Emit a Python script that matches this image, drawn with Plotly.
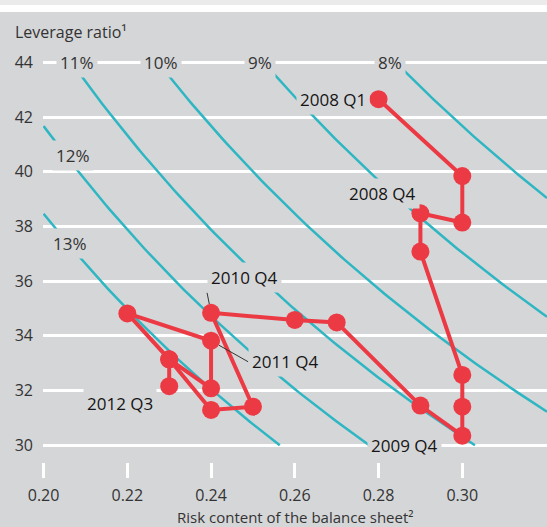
import numpy as np
import plotly.graph_objects as go

# Bank balance sheet path, 2008 Q1 -> 2012 Q3
RISK = [0.28, 0.30, 0.30, 0.29, 0.29, 0.30, 0.30, 0.30, 0.29, 0.27,
        0.26, 0.24, 0.25, 0.24, 0.23, 0.24, 0.24, 0.22, 0.23, 0.23]
LEVERAGE = [42.65, 39.84, 38.14, 38.48, 37.08, 32.57, 31.41, 30.35, 31.45, 34.49,
            34.58, 34.84, 31.41, 31.29, 33.14, 32.08, 33.82, 34.82, 33.14, 32.16]

# iso capital-ratio curves (capital ratio = 1 / (leverage * risk content))
CAPITAL_RATIOS = [0.08, 0.09, 0.10, 0.11, 0.12, 0.13]
RATIO_LABELS = ["8%", "9%", "10%", "11%", "12%", "13%"]

QUARTER_LABELS = ["2008 Q1", "2008 Q4", "2009 Q4", "2010 Q4", "2011 Q4", "2012 Q3"]
QUARTER_INDEX = [0, 3, 7, 11, 16, 19]

X_TICKS = [0.20, 0.22, 0.24, 0.26, 0.28, 0.30]
Y_TICKS = [30, 32, 34, 36, 38, 40, 42, 44]

BG = "#d5d6d8"
TEAL = "#2eb6c3"
RED = "#ec3a44"
TXT = "#333333"
FONT = "Open Sans"

X_RANGE = [0.19986, 0.32023]
Y_RANGE = [29.386, 45.839]

fig = go.Figure()

# capital ratio curves, clipped to leverage 30..44 and the visible risk range
for c in CAPITAL_RATIOS:
    r0 = max(0.20, 1 / (c * 44))
    r1 = min(X_RANGE[1], 1 / (c * 30))
    r = np.linspace(r0, r1, 80)
    fig.add_trace(go.Scatter(x=r, y=1 / (c * r), mode="lines",
                             line=dict(color=TEAL, width=2.5),
                             hoverinfo="skip", showlegend=False))

fig.add_trace(go.Scatter(x=RISK, y=LEVERAGE, mode="lines+markers",
                         line=dict(color=RED, width=4),
                         marker=dict(color=RED, size=18),
                         showlegend=False))

ann = []
# percent labels (data position of the label box)
pct_pos = {"11%": (0.2080, 44), "10%": (0.2280, 44), "9%": (0.2518, 44),
           "8%": (0.2828, 44), "12%": (0.2070, 40.61), "13%": (0.2063, 37.38)}
for lab in RATIO_LABELS:
    px, py = pct_pos[lab]
    ann.append(dict(x=px, y=py, text=lab, showarrow=False, bgcolor=BG, borderpad=3,
                    font=dict(family=FONT, size=17, color=TXT)))

# quarter labels placement relative to their point
q_style = {
    "2008 Q1": dict(xanchor="right", yanchor="middle", xshift=-9, yshift=0),
    "2008 Q4": dict(xanchor="right", yanchor="middle", xshift=0, yshift=20),
    "2009 Q4": dict(xanchor="right", yanchor="middle", xshift=-20, yshift=-10),
    "2012 Q3": dict(xanchor="right", yanchor="middle", xshift=-12, yshift=-17),
}
for lab, i in zip(QUARTER_LABELS, QUARTER_INDEX):
    base = dict(x=RISK[i], y=LEVERAGE[i], text=lab, bgcolor=BG, borderpad=3,
                font=dict(family=FONT, size=17, color="#151515"))
    if lab in q_style:
        base.update(showarrow=False, **q_style[lab])
    elif lab == "2010 Q4":
        base.update(showarrow=True, arrowhead=0, arrowwidth=1, arrowcolor=TXT,
                    standoff=9, xanchor="left", yanchor="bottom", ax=-4, ay=-20)
    else:
        base.update(showarrow=True, arrowhead=0, arrowwidth=1, arrowcolor=TXT,
                    standoff=9, xanchor="left", yanchor="middle", ax=37, ay=21)
    ann.append(base)

ann.append(dict(xref="paper", yref="paper", x=-0.060, y=0.9556, xanchor="left",
                yanchor="middle", showarrow=False, text="Leverage ratio¹",
                font=dict(family=FONT, size=16, color=TXT)))
ann.append(dict(xref="paper", yref="paper", x=0.5, y=-0.122, xanchor="center",
                yanchor="middle", showarrow=False,
                text="Risk content of the balance sheet²",
                font=dict(family=FONT, size=15, color=TXT)))

fig.update_layout(
    width=547, height=527,
    margin=dict(l=43, r=0, t=12, b=65),
    paper_bgcolor=BG, plot_bgcolor=BG,
    font=dict(family=FONT, size=16, color=TXT),
    annotations=ann,
    shapes=[
        dict(type="rect", xref="paper", yref="paper", x0=-0.1, x1=1.1,
             y0=1.0, y1=1.0156, fillcolor="white", line_width=0, layer="above"),
        dict(type="rect", xref="paper", yref="paper", x0=-0.1, x1=1.1,
             y0=1.0156, y1=1.03, fillcolor="#ebebec", line_width=0, layer="above"),
    ],
    xaxis=dict(range=X_RANGE, tickvals=X_TICKS, tickformat=".2f", showgrid=False,
               zeroline=False, showline=False, ticks="outside", ticklen=15,
               tickwidth=3, tickcolor="white", ticklabelstandoff=4,
               tickfont=dict(size=16, color=TXT)),
    yaxis=dict(range=Y_RANGE, tickvals=Y_TICKS, showgrid=True, gridcolor="white",
               gridwidth=3, zeroline=False, showline=False, ticks="",
               ticklabelstandoff=9, tickfont=dict(size=16, color=TXT)),
)

fig.write_html("out.html", config={"displayModeBar": False},
               post_script="document.body.style.margin='0';")
